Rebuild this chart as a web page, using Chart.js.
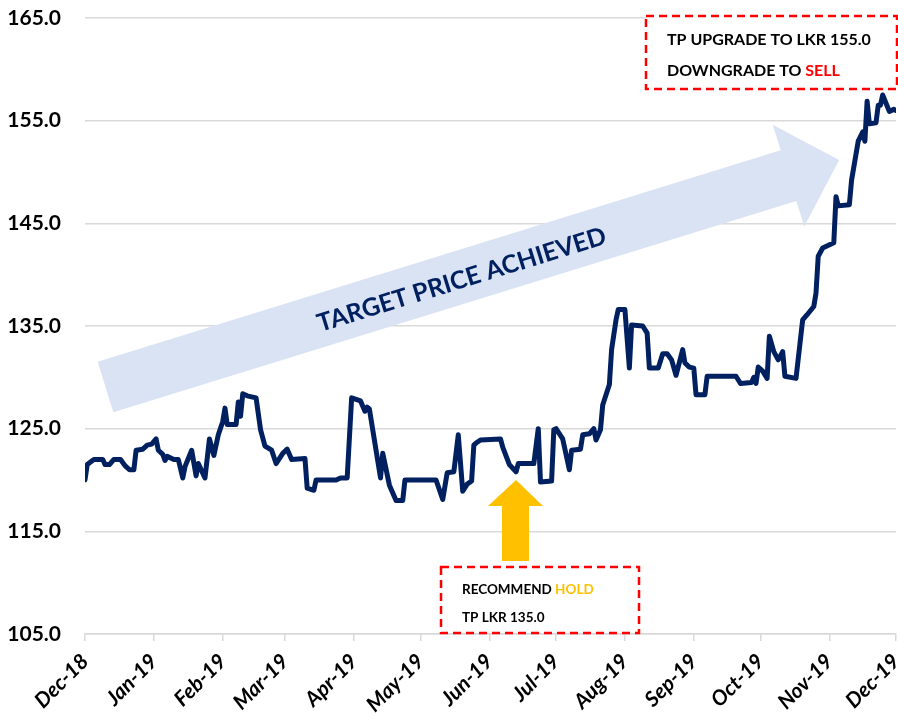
<!DOCTYPE html>
<html>
<head>
<meta charset="utf-8">
<script src="https://cdn.jsdelivr.net/npm/chart.js@4"></script>
<style>
html,body{margin:0;padding:0;background:#fff;}
#wrap{width:898px;height:717px;position:relative;}
</style>
</head>
<body>
<div id="wrap"><canvas id="c" width="898" height="717"></canvas></div>
<script>
// Day offsets from 1-Dec-2018 and closing prices (LKR)
const days = [0,1,4,8,9,11,13,16,18,20,22,23,26,28,30,32,33,35,36,37,40,42,44,45,48,50,51,54,56,58,60,62,63,64,68,69,70,71,73,77,79,81,84,86,89,91,93,99,100,103,104,113,115,118,120,124,126,127,128,133,134,137,140,143,144,158,161,163,166,168,170,172,174,175,176,178,187,188,191,194,195,202,204,205,210,211,212,215,218,219,223,224,227,229,230,232,233,236,237,239,240,243,245,246,251,253,254,258,260,262,264,266,269,270,272,274,275,279,280,293,295,300,301,302,303,305,307,308,310,312,314,315,320,323,325,328,329,330,332,337,338,339,344,345,348,350,351,352,353,356,357,358,359,362,364,365];
const prices = [120.0,121.5,122.0,122.0,121.5,121.5,122.0,122.0,121.4,121.0,121.0,122.9,123.0,123.4,123.5,124.0,122.9,122.5,121.9,122.3,122.0,122.0,120.2,121.3,122.9,120.4,121.6,120.2,124.0,122.4,124.4,125.7,127.0,125.4,125.4,127.6,126.2,128.4,128.2,128.0,124.9,123.3,122.9,121.6,122.6,123.0,122.0,122.1,119.2,119.0,120.0,120.0,120.2,120.2,128.0,127.7,126.7,127.1,126.9,120.2,122.6,119.5,118.0,118.0,120.0,120.0,118.1,120.7,120.8,124.4,118.9,119.6,119.9,123.4,123.6,123.9,124.0,123.2,121.5,120.8,121.6,121.6,125.0,119.8,119.9,124.9,125.0,124.0,121.0,122.9,123.0,124.4,124.5,125.0,123.9,124.9,127.3,129.3,132.7,135.6,136.6,136.6,130.9,135.1,135.0,134.3,130.9,130.9,132.3,132.3,131.7,130.2,132.7,131.4,131.0,130.9,128.3,128.3,130.1,130.1,129.4,129.5,130.0,129.4,131.0,130.6,129.9,134.0,132.5,131.7,132.5,130.1,129.9,135.6,136.1,136.9,138.2,141.8,142.6,143.1,147.6,146.7,146.8,149.2,153.0,153.9,153.0,156.9,154.7,154.8,156.5,156.5,157.5,155.9,156.1,156.0];
// X tick positions (month starts) and labels
const tickDays = [0,31,62,90,121,151,182,212,243,274,304,335,365];
const tickLabels = ['Dec-18','Jan-19','Feb-19','Mar-19','Apr-19','May-19','Jun-19','Jul-19','Aug-19','Sep-19','Oct-19','Nov-19','Dec-19'];
// Y axis range
const yMin = 105, yMax = 165, yStep = 10;
// Annotation texts
const arrowText = 'TARGET PRICE ACHIEVED';
const box1Line1 = 'TP UPGRADE TO LKR 155.0';
const box1Line2a = 'DOWNGRADE TO ', box1Line2b = 'SELL';
const box2Line1a = 'RECOMMEND ', box2Line1b = 'HOLD';
const box2Line2 = 'TP LKR 135.0';

const FONT = 'Lato, "Open Sans", sans-serif';

const deco = {
  id: 'deco',
  beforeDatasetsDraw(chart) {
    const ctx = chart.ctx;
    ctx.save();
    ctx.translate(105.5, 387);
    ctx.rotate(-17.2 * Math.PI / 180);
    ctx.fillStyle = '#DAE3F3';
    ctx.beginPath();
    ctx.moveTo(0, -26.5);
    ctx.lineTo(715, -26.5);
    ctx.lineTo(715, -53.3);
    ctx.lineTo(768, 0);
    ctx.lineTo(715, 53.3);
    ctx.lineTo(715, 26.5);
    ctx.lineTo(0, 26.5);
    ctx.closePath();
    ctx.fill();
    ctx.fillStyle = '#002060';
    ctx.font = 'bold 25px ' + FONT;
    ctx.textAlign = 'center';
    ctx.textBaseline = 'middle';
    ctx.fillText(arrowText, 372, 3);
    ctx.restore();
  },
  afterDraw(chart) {
    const ctx = chart.ctx;
    ctx.save();
    // yellow up arrow
    ctx.fillStyle = '#FFC000';
    ctx.beginPath();
    ctx.moveTo(516, 480);
    ctx.lineTo(543, 506);
    ctx.lineTo(529, 506);
    ctx.lineTo(529, 561);
    ctx.lineTo(502, 561);
    ctx.lineTo(502, 506);
    ctx.lineTo(488, 506);
    ctx.closePath();
    ctx.fill();
    // dashed boxes
    ctx.strokeStyle = '#FF0000';
    ctx.lineWidth = 2.5;
    ctx.setLineDash([8, 5]);
    ctx.fillStyle = '#FFFFFF';
    ctx.fillRect(646, 16, 251, 73);
    ctx.strokeRect(646, 16, 251, 73);
    ctx.fillRect(441, 567, 198, 66);
    ctx.strokeRect(441, 567, 198, 66);
    ctx.setLineDash([]);
    ctx.textAlign = 'left';
    ctx.textBaseline = 'alphabetic';
    // box 1 text
    ctx.font = 'bold 16px ' + FONT;
    ctx.fillStyle = '#000';
    ctx.fillText(box1Line1, 667, 45);
    ctx.fillText(box1Line2a, 667, 76);
    let w = ctx.measureText(box1Line2a).width;
    ctx.fillStyle = '#FF0000';
    ctx.fillText(box1Line2b, 667 + w, 76);
    // box 2 text
    ctx.font = 'bold 13.5px ' + FONT;
    ctx.fillStyle = '#000';
    ctx.fillText(box2Line1a, 462, 594);
    w = ctx.measureText(box2Line1a).width;
    ctx.fillStyle = '#FFC000';
    ctx.fillText(box2Line1b, 462 + w, 594);
    ctx.fillStyle = '#000';
    ctx.fillText(box2Line2, 462, 622);
    ctx.restore();
  }
};

new Chart(document.getElementById('c'), {
  type: 'line',
  data: {
    datasets: [{
      data: days.map((d, i) => ({ x: d, y: prices[i] })),
      borderColor: '#002060',
      borderWidth: 5,
      pointRadius: 0,
      tension: 0,
      borderJoinStyle: 'round',
      borderCapStyle: 'round',
      fill: false
    }]
  },
  options: {
    responsive: false,
    animation: false,
    layout: { padding: { top: 18, right: 2, left: 0, bottom: 0 } },
    plugins: { legend: { display: false }, tooltip: { enabled: false } },
    scales: {
      x: {
        type: 'linear',
        min: 0, max: 365,
        afterBuildTicks(axis) { axis.ticks = tickDays.map(v => ({ value: v })); },
        afterFit(axis) { axis.height = 83; axis.paddingLeft = 0; axis.paddingRight = 0; },
        grid: { display: true, drawOnChartArea: false, drawTicks: true, tickLength: 7, color: '#D9D9D9', lineWidth: 1.5 },
        border: { display: true, color: '#D9D9D9', width: 1.5 },
        ticks: {
          autoSkip: false, maxRotation: 45, minRotation: 45, padding: 8,
          color: '#000',
          font: { family: FONT, size: 21, weight: 'bold', style: 'italic' },
          callback(v) { const i = tickDays.indexOf(v); return i >= 0 ? tickLabels[i] : ''; }
        }
      },
      y: {
        min: yMin, max: yMax,
        afterFit(axis) { axis.width = 85; axis.paddingTop = 0; axis.paddingBottom = 0; },
        grid: { color: '#D9D9D9', lineWidth: 1.5, drawTicks: true, tickLength: 22, tickColor: 'rgba(0,0,0,0)' },
        border: { display: false },
        ticks: {
          stepSize: yStep, padding: 2, color: '#000',
          font: { family: FONT, size: 21, weight: 'bold' },
          callback(v) { return Number(v).toFixed(1); }
        }
      }
    }
  },
  plugins: [deco]
});
</script>
</body>
</html>
